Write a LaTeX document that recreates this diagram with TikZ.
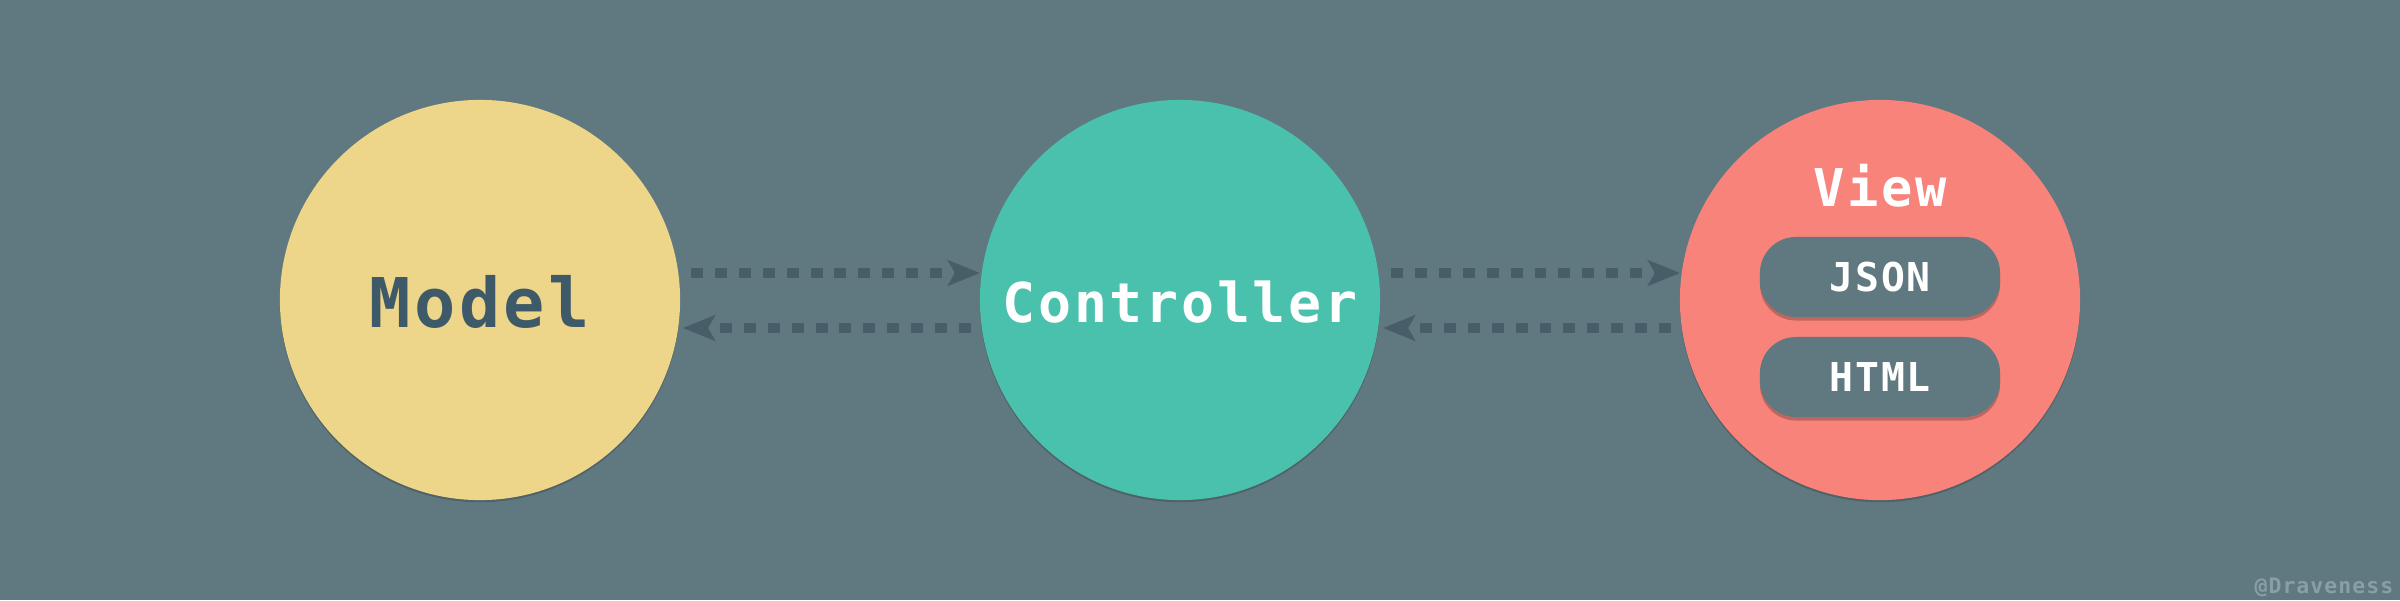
\documentclass[tikz,border=0pt]{standalone}
\usepackage{fontspec}
\newfontfamily\codefont{DejaVu Sans Mono}[LetterSpace=5]
\usetikzlibrary{arrows.meta,shadows,calc}
\definecolor{bg}{RGB}{96,120,128}
\definecolor{yellowc}{RGB}{237,213,138}
\definecolor{tealc}{RGB}{74,193,172}
\definecolor{redc}{RGB}{247,131,122}
\definecolor{arrowc}{RGB}{71,93,103}
\definecolor{modeltext}{RGB}{62,90,104}
\definecolor{wmc}{RGB}{138,158,166}
\begin{document}
\begin{tikzpicture}[x=0.01cm,y=-0.01cm,
  ball/.style={circle,minimum size=4cm,inner sep=0pt,outer sep=0pt,
    drop shadow={shadow xshift=0pt,shadow yshift=-0.6pt,opacity=0.18,fill=black}},
  pill/.style={rounded corners=0.36cm,minimum width=2.4cm,minimum height=0.8cm,
    inner sep=0pt,fill=bg,text=white,
    drop shadow={shadow xshift=0pt,shadow yshift=-1pt,opacity=0.22,fill=black}},
  arr/.style={draw=arrowc,line width=2.85pt,dash pattern=on 3.4pt off 3.4pt,
    -{Stealth[length=9.1pt,width=7.2pt,inset=2pt]}},
  lbl/.style={anchor=base,inner sep=0pt}
]
\fill[bg] (0,0) rectangle (2400,600);
\useasboundingbox (0,0) rectangle (2400,600);

\node[ball,fill=yellowc] (m) at (480,300) {};
\node[ball,fill=tealc] (c) at (1180,300) {};
\node[ball,fill=redc] (v) at (1880,300) {};

\node[lbl,text=modeltext,font=\codefont\bfseries\fontsize{19.5}{22}\selectfont] (mt) at (480,327) {Model};
\node[lbl,text=white,font=\codefont\bfseries\fontsize{15.6}{18}\selectfont] (ct) at (1180,322) {Controller};
\node[lbl,text=white,font=\codefont\bfseries\fontsize{14.8}{17}\selectfont] (vt) at (1880,206) {View};

\node[pill,font=\codefont\bfseries\fontsize{11.3}{13}\selectfont] (json) at (1880,277) {JSON};
\node[pill,font=\codefont\bfseries\fontsize{11.3}{13}\selectfont] (html) at (1880,377) {HTML};

\draw[arr] ($(m.center)+(211,-27)$) -- ($(c.center)+(-200,-27)$);
\draw[arr] ($(c.center)+(-209,28)$) -- ($(m.center)+(203,28)$);
\draw[arr] ($(c.center)+(211,-27)$) -- ($(v.center)+(-200,-27)$);
\draw[arr] ($(v.center)+(-209,28)$) -- ($(c.center)+(203,28)$);

\node[anchor=base east,inner sep=0pt,text=wmc,font=\codefont\bfseries\fontsize{6.1}{7}\selectfont] (wm) at (2394,593) {@Draveness};
\end{tikzpicture}
\end{document}
